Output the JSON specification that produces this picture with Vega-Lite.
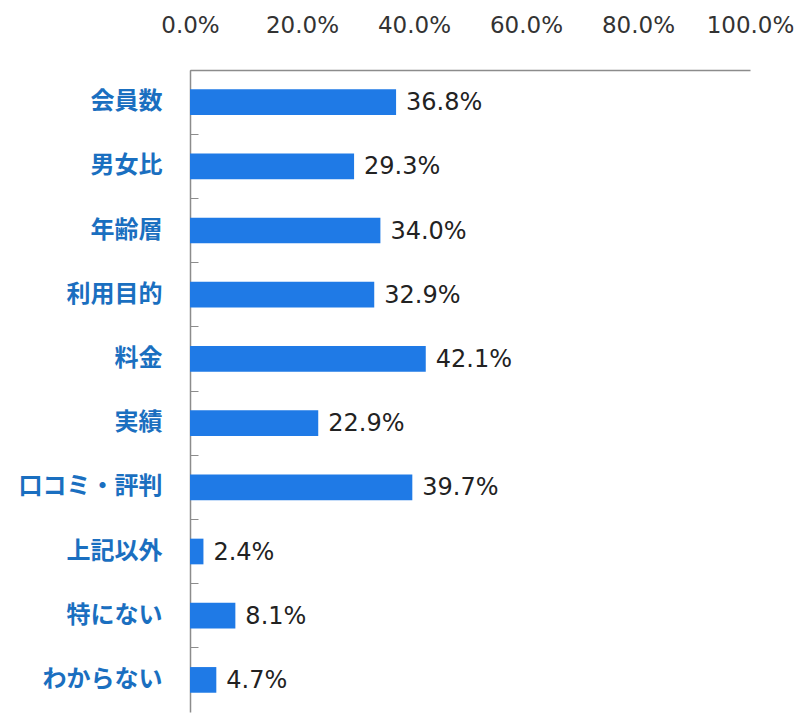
{
  "$schema": "https://vega.github.io/schema/vega-lite/v6.json",
  "autosize": {"type": "none"},
  "padding": {"left": 190, "top": 70, "right": 50, "bottom": 3},
  "width": 560,
  "height": 642,
  "background": "white",
  "config": {"view": {"stroke": null}},
  "data": {
    "values": [
      {"item": "会員数", "pct": 0.368},
      {"item": "男女比", "pct": 0.293},
      {"item": "年齢層", "pct": 0.340},
      {"item": "利用目的", "pct": 0.329},
      {"item": "料金", "pct": 0.421},
      {"item": "実績", "pct": 0.229},
      {"item": "口コミ・評判", "pct": 0.397},
      {"item": "上記以外", "pct": 0.024},
      {"item": "特にない", "pct": 0.081},
      {"item": "わからない", "pct": 0.047}
    ]
  },
  "encoding": {
    "y": {
      "field": "item",
      "type": "nominal",
      "sort": null,
      "scale": {"paddingInner": 0, "paddingOuter": 0},
      "axis": {
        "title": null,
        "domainColor": "#8c8c8c",
        "domainWidth": 1.5,
        "tickColor": "#8c8c8c",
        "tickSize": -8,
        "bandPosition": 0,
        "tickExtra": true,
        "labelPadding": 36,
        "labelFont": "Noto Sans CJK JP",
        "labelFontWeight": "bold",
        "labelFontSize": 24,
        "labelColor": "#1a6fc0"
      }
    },
    "x": {
      "field": "pct",
      "type": "quantitative",
      "scale": {"domain": [0, 1], "nice": false},
      "axis": {
        "orient": "top",
        "title": null,
        "values": [0, 0.2, 0.4, 0.6, 0.8, 1],
        "format": ".1%",
        "grid": false,
        "ticks": false,
        "domainColor": "#8c8c8c",
        "domainWidth": 1.5,
        "labelPadding": 33,
        "labelFont": "DejaVu Sans",
        "labelFontSize": 23,
        "labelColor": "#333333",
        "labelFlush": false
      }
    }
  },
  "layer": [
    {
      "mark": {"type": "bar", "color": "#1f7ae6", "height": {"band": 0.4}}
    },
    {
      "mark": {"type": "text", "align": "left", "dx": 10, "dy": 1, "font": "DejaVu Sans", "fontSize": 24, "color": "#222222"},
      "encoding": {
        "text": {"field": "pct", "type": "quantitative", "format": ".1%"}
      }
    }
  ]
}
